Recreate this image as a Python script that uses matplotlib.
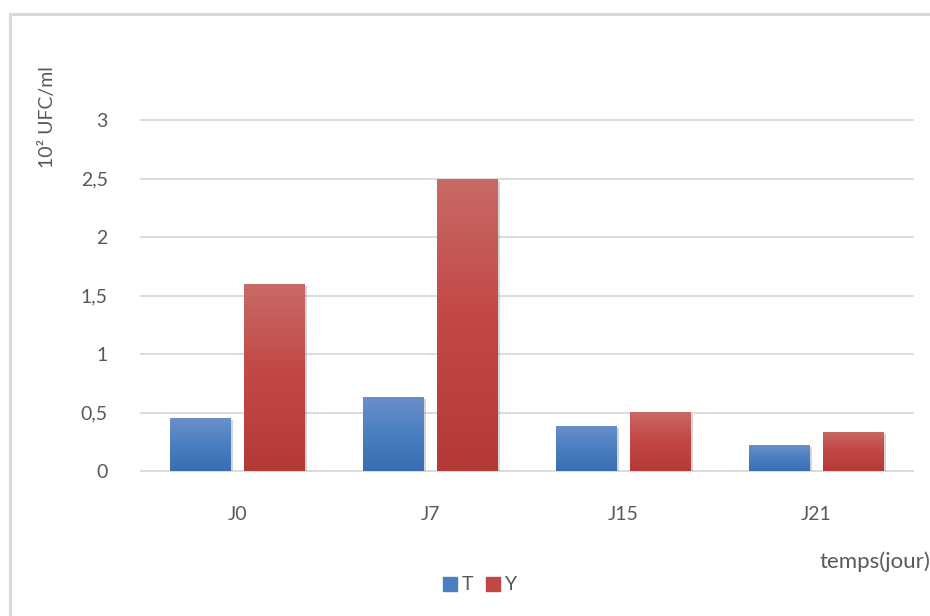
import matplotlib.pyplot as plt
import matplotlib.patheffects as pe
import numpy as np
from matplotlib.lines import Line2D
from matplotlib.colors import LinearSegmentedColormap

plt.rcParams["font.family"] = ["Lato", "DejaVu Sans"]

# data
jours = ["J0", "J7", "J15", "J21"]
T = [0.45, 0.63, 0.385, 0.22]
Y = [1.6, 2.5, 0.505, 0.335]
yticks = [0, 0.5, 1, 1.5, 2, 2.5, 3]
ytick_labels = ["0", "0,5", "1", "1,5", "2", "2,5", "3"]

txt = "#595959"
grid = "#d9d9d9"
fs = 14

# top -> bottom gradient colours
blue_cm = LinearSegmentedColormap.from_list("b", ["#6a8fca", "#4a7fc1", "#3a6cb1"])
red_cm = LinearSegmentedColormap.from_list("r", ["#c86a67", "#c24644", "#b43a38"])

fig = plt.figure(figsize=(9.30, 6.16), dpi=100)
W, H = 930, 616
ax = fig.add_axes([141 / W, 1 - 471 / H, 772 / W, 351 / H])

x = np.arange(len(jours))
bw = 0.316
off = 0.192


def grad_bars(xpos, vals, cmap):
    bars = ax.bar(xpos, vals, bw, color=cmap(0.5), zorder=3,
                  path_effects=[pe.SimplePatchShadow(offset=(1.5, -1.5), shadow_rgbFace="#888888", alpha=0.35),
                                pe.Normal()])
    g = np.linspace(0, 1, 256).reshape(-1, 1)
    for b in bars:
        x0 = b.get_x()
        h = b.get_height()
        im = ax.imshow(g, cmap=cmap, extent=(x0, x0 + bw, 0, h), origin="upper",
                       aspect="auto", zorder=4)
        im.set_clip_path(b)
    return bars


grad_bars(x - off, T, blue_cm)
grad_bars(x + off, Y, red_cm)

ax.set_xlim(-0.5, 3.5)
ax.set_ylim(0, 3)
ax.set_yticks(yticks)
ax.set_yticklabels(ytick_labels)
ax.set_xticks(x)
ax.set_xticklabels(jours)
ax.tick_params(axis="y", length=0, pad=24, labelsize=fs, labelcolor=txt)
ax.tick_params(axis="x", length=0, pad=25, labelsize=fs, labelcolor=txt)
for s in ax.spines.values():
    s.set_visible(False)
for v in yticks:
    ax.axhline(v, color=grid, lw=1.3, zorder=1, clip_on=False)

# axis titles and legend
fig.text(47 / W, 1 - 117 / H, "10² UFC/ml", rotation=90, ha="center", va="center",
         fontsize=fs, color=txt)
fig.text(819 / W, 1 - 562 / H, "temps(jour)", ha="left", va="center",
         fontsize=16, color=txt)

leg_y = 1 - 584 / H
for xs, lab, cm in [(443, "T", blue_cm), (486, "Y", red_cm)]:
    fig.patches.append(plt.Rectangle((xs / W, leg_y - 7 / H), 14 / W, 14 / H,
                                     transform=fig.transFigure, color=cm(0.5)))
    fig.text((xs + 19) / W, leg_y, lab, ha="left", va="center", fontsize=fs, color=txt)

# outer chart frame
fig.add_artist(Line2D([10 / W, 1], [1 - 14 / H, 1 - 14 / H], color=grid, lw=2.2,
                      transform=fig.transFigure))
fig.add_artist(Line2D([10 / W, 10 / W], [0, 1 - 14 / H], color=grid, lw=2.2,
                      transform=fig.transFigure))

fig.savefig("out.png", dpi=100)
